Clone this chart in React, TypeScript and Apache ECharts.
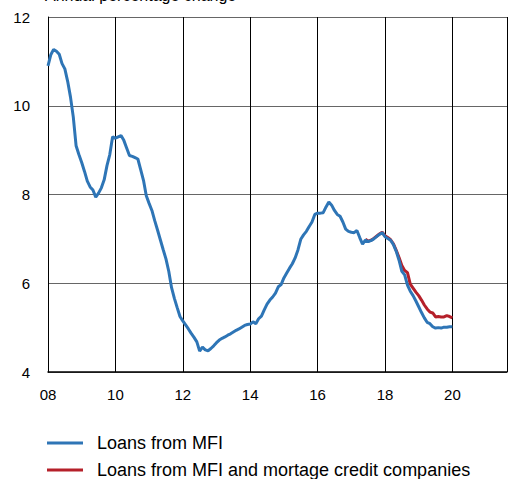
import React, { useEffect, useRef } from "react";
import * as echarts from "echarts";

// Monthly observations starting January 2008 (year axis shown as two digits)
const startYear = 8;
const xTickLabels = ["08", "10", "12", "14", "16", "18", "20"];
const yTicks = [4, 6, 8, 10, 12];

const loansMFI = [
  10.9, 11.15, 11.27, 11.23, 11.16, 10.95, 10.83, 10.55, 10.2, 9.75, 9.1, 8.9,
  8.72, 8.52, 8.3, 8.17, 8.1, 7.94, 8.03, 8.15, 8.33, 8.65, 8.9, 9.3,
  9.27, 9.3, 9.33, 9.22, 9.05, 8.88, 8.86, 8.83, 8.8, 8.56, 8.32, 7.97,
  7.8, 7.64, 7.41, 7.2, 6.98, 6.76, 6.55, 6.27, 5.9, 5.66, 5.45, 5.25,
  5.15, 5.06, 4.97, 4.87, 4.78, 4.68, 4.47, 4.56, 4.5, 4.48, 4.53, 4.59,
  4.66, 4.72, 4.76, 4.79, 4.83, 4.86, 4.9, 4.94, 4.97, 5.01, 5.05, 5.07,
  5.08, 5.13, 5.09, 5.2, 5.26, 5.4, 5.53, 5.62, 5.69, 5.78, 5.92, 5.97,
  6.12, 6.23, 6.34, 6.44, 6.57, 6.75, 6.99, 7.09, 7.17, 7.28, 7.38, 7.55,
  7.58, 7.58, 7.59, 7.72, 7.83, 7.76, 7.64, 7.55, 7.51, 7.38, 7.22, 7.17,
  7.15, 7.14, 7.19, 7.03, 6.88, 6.97, 6.94, 6.96, 7.0, 7.05, 7.1, 7.14,
  7.05, 7.01, 6.97, 6.87, 6.72, 6.52, 6.27, 6.19, 5.96, 5.82, 5.72, 5.6,
  5.47, 5.34, 5.22, 5.12, 5.09, 5.02, 4.99, 5.0, 4.99, 5.01, 5.01, 5.02,
  5.02,
];

// Starts June 2017 (month index 113)
const mortgageStartIndex = 113;
const loansMFIMortgage = [
  6.99, 6.95, 6.97, 7.01, 7.06, 7.11, 7.15,
  7.07, 7.03, 6.98, 6.89, 6.74, 6.58, 6.4, 6.29, 6.24, 5.98, 5.89, 5.8,
  5.72, 5.62, 5.51, 5.42, 5.35, 5.33, 5.24, 5.25, 5.24, 5.24, 5.27, 5.25,
  5.22,
];

const seriesNames = ["Loans from MFI", "Loans from MFI and mortage credit companies"];
const titleText = "Annual percentage change";

const FONT = "'Liberation Sans', Arial, sans-serif";

export default function App() {
  const ref = useRef<HTMLDivElement>(null);

  useEffect(() => {
    document.body.style.margin = "0";
    if (!ref.current) return;
    const chart = echarts.init(ref.current, undefined, { renderer: "svg" });

    const blueData = loansMFI.map((v, i) => [startYear + i / 12, v]);
    const redData = loansMFIMortgage.map((v, i) => [startYear + (mortgageStartIndex + i) / 12, v]);

    chart.setOption({
      animation: false,
      backgroundColor: "#fff",
      textStyle: { fontFamily: FONT },
      grid: { left: 48, right: 0, top: 17, bottom: 107, containLabel: false },
      graphic: [
        {
          type: "text",
          left: 45,
          top: -13,
          style: { text: titleText, fontSize: 16, fontFamily: FONT, fill: "#000" },
        },
      ],
      legend: {
        orient: "vertical",
        left: 47,
        top: 434,
        padding: 0,
        itemGap: 9,
        itemWidth: 36,
        itemHeight: 3,
        icon: "rect",
        data: seriesNames,
        textStyle: { fontSize: 18, color: "#000", fontFamily: FONT, lineHeight: 18, padding: [0, 0, 0, 9] },
      },
      xAxis: {
        type: "value",
        min: 8,
        max: 21.62,
        interval: 2,
        axisLine: { show: true, onZero: false, lineStyle: { color: "#000", width: 1.5 } },
        axisTick: { show: false },
        axisLabel: {
          fontSize: 15,
          color: "#000",
          margin: 15,
          fontFamily: FONT,
          formatter: (v: number) => {
            const idx = xTickLabels.indexOf(String(Math.round(v)).padStart(2, "0"));
            return Math.abs(v - Math.round(v)) < 1e-6 && idx >= 0 ? xTickLabels[idx] : "";
          },
        },
        splitLine: { show: true, lineStyle: { color: "#000", width: 1 } },
      },
      yAxis: {
        type: "value",
        min: yTicks[0],
        max: yTicks[yTicks.length - 1],
        interval: 2,
        axisLine: { show: true, lineStyle: { color: "#000", width: 1 } },
        axisTick: { show: false },
        axisLabel: { fontSize: 15, color: "#000", margin: 18, fontFamily: FONT },
        splitLine: { show: true, lineStyle: { color: "#666", width: 1 } },
      },
      series: [
        {
          name: seriesNames[1],
          type: "line",
          data: redData,
          showSymbol: false,
          symbol: "none",
          z: 2,
          lineStyle: { color: "#B5202A", width: 3 },
          itemStyle: { color: "#B5202A" },
        },
        {
          name: seriesNames[0],
          type: "line",
          data: blueData,
          showSymbol: false,
          symbol: "none",
          z: 3,
          lineStyle: { color: "#2E75B6", width: 3 },
          itemStyle: { color: "#2E75B6" },
        },
      ],
    });

    return () => chart.dispose();
  }, []);

  return <div ref={ref} style={{ width: 510, height: 479 }} />;
}
